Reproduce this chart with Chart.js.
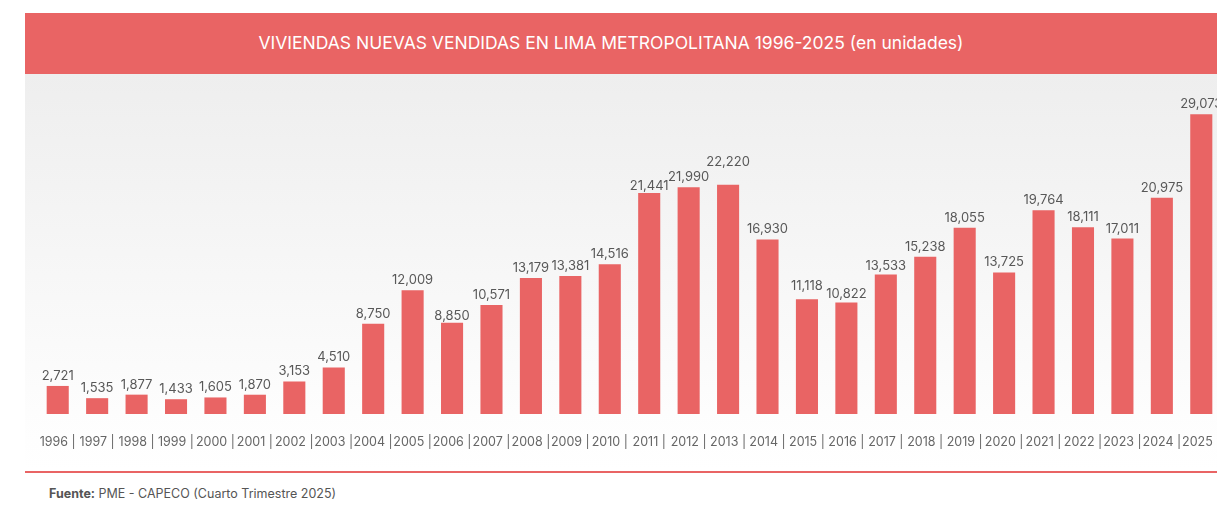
<!DOCTYPE html>
<html lang="es">
<head>
<meta charset="utf-8">
<title>Viviendas nuevas vendidas en Lima Metropolitana</title>
<script src="https://cdn.jsdelivr.net/npm/chart.js@4.4.1/dist/chart.umd.min.js"></script>
<style>
  html, body { margin: 0; padding: 0; background: #fff; overflow: hidden; width: 1217px; height: 512px; }
  body { position: relative; font-family: Inter, "Noto Sans", Arial, sans-serif; }
  #titulo {
    position: absolute; left: 25px; top: 13px; width: 1220px; height: 61px;
    background: #e96464;
  }
  #titulo span {
    position: absolute; left: 0; width: 1172px; top: 0; line-height: 60px;
    text-align: center; color: #fff; font-size: 17.5px;
  }
  #panel {
    position: absolute; left: 25px; top: 74px; width: 1220px; height: 397px;
    background: linear-gradient(#eeeeee, #f6f6f6 45%, #fdfdfd 85%, #ffffff);
    border-bottom: 2px solid #e96464;
  }
  #grafico { position: absolute; left: 0; top: 0; width: 1196px; height: 397px; }
  #fuente {
    position: absolute; left: 49px; top: 486px; font-size: 12.5px; color: #555;
  }
  #fuente b { font-weight: 700; }
</style>
</head>
<body>
<div id="titulo"><span>VIVIENDAS NUEVAS VENDIDAS EN LIMA METROPOLITANA 1996-2025 (en unidades)</span></div>
<div id="panel"><div id="grafico"><canvas id="ventas"></canvas></div></div>
<div id="fuente"><b>Fuente:</b> PME - CAPECO (Cuarto Trimestre 2025)</div>
<script>
// años y unidades vendidas
const anios = ['1996', '1997', '1998', '1999', '2000', '2001', '2002', '2003', '2004', '2005',
  '2006', '2007', '2008', '2009', '2010', '2011', '2012', '2013', '2014', '2015',
  '2016', '2017', '2018', '2019', '2020', '2021', '2022', '2023', '2024', '2025'];
const unidades = [2721, 1535, 1877, 1433, 1605, 1870, 3153, 4510, 8750, 12009,
  8850, 10571, 13179, 13381, 14516, 21441, 21990, 22220, 16930, 11118,
  10822, 13533, 15238, 18055, 13725, 19764, 18111, 17011, 20975, 29073];

// desplazamiento extra (px) de algunas etiquetas para que no se encimen
const ajusteEtiqueta = { '2006': -3, '2011': -3, '2013': 13, '2015': 3, '2016': -2, '2017': -2 };

const rojo = '#e96464';

// etiquetas de valor encima de cada barra
const etiquetasValor = {
  id: 'etiquetasValor',
  afterDatasetsDraw(chart) {
    const ctx = chart.ctx;
    const meta = chart.getDatasetMeta(0);
    ctx.save();
    ctx.font = '13px Inter, "Noto Sans", sans-serif';
    ctx.fillStyle = '#585858';
    ctx.textAlign = 'center';
    ctx.textBaseline = 'alphabetic';
    meta.data.forEach((bar, i) => {
      const extra = ajusteEtiqueta[anios[i]] || 0;
      ctx.fillText(unidades[i].toLocaleString('en-US'), bar.x, bar.y - 6 - extra);
    });
    ctx.restore();
  }
};

new Chart(document.getElementById('ventas'), {
  type: 'bar',
  data: {
    labels: anios,
    datasets: [{
      data: unidades,
      backgroundColor: rojo,
      borderWidth: 0,
      barPercentage: 0.56,
      categoryPercentage: 1
    }]
  },
  options: {
    responsive: true,
    maintainAspectRatio: false,
    animation: false,
    layout: { padding: { left: 13, right: 0, top: 10, bottom: 0 } },
    plugins: {
      legend: { display: false },
      tooltip: { enabled: false }
    },
    scales: {
      x: {
        grid: { display: false },
        border: { display: false },
        ticks: {
          autoSkip: false,
          maxRotation: 0,
          padding: 13,
          color: '#666',
          font: { family: 'Inter', size: 12.5 },
          callback: (v, i) => anios[i] + ' |'
        },
        afterFit: (scale) => {
          scale.height = 57;
          // la última etiqueta puede salirse del lienzo
          scale.paddingLeft = 0;
          scale.paddingRight = 0;
        }
      },
      y: {
        display: false,
        min: 0,
        max: 32000
      }
    }
  },
  plugins: [etiquetasValor]
});
</script>
</body>
</html>
